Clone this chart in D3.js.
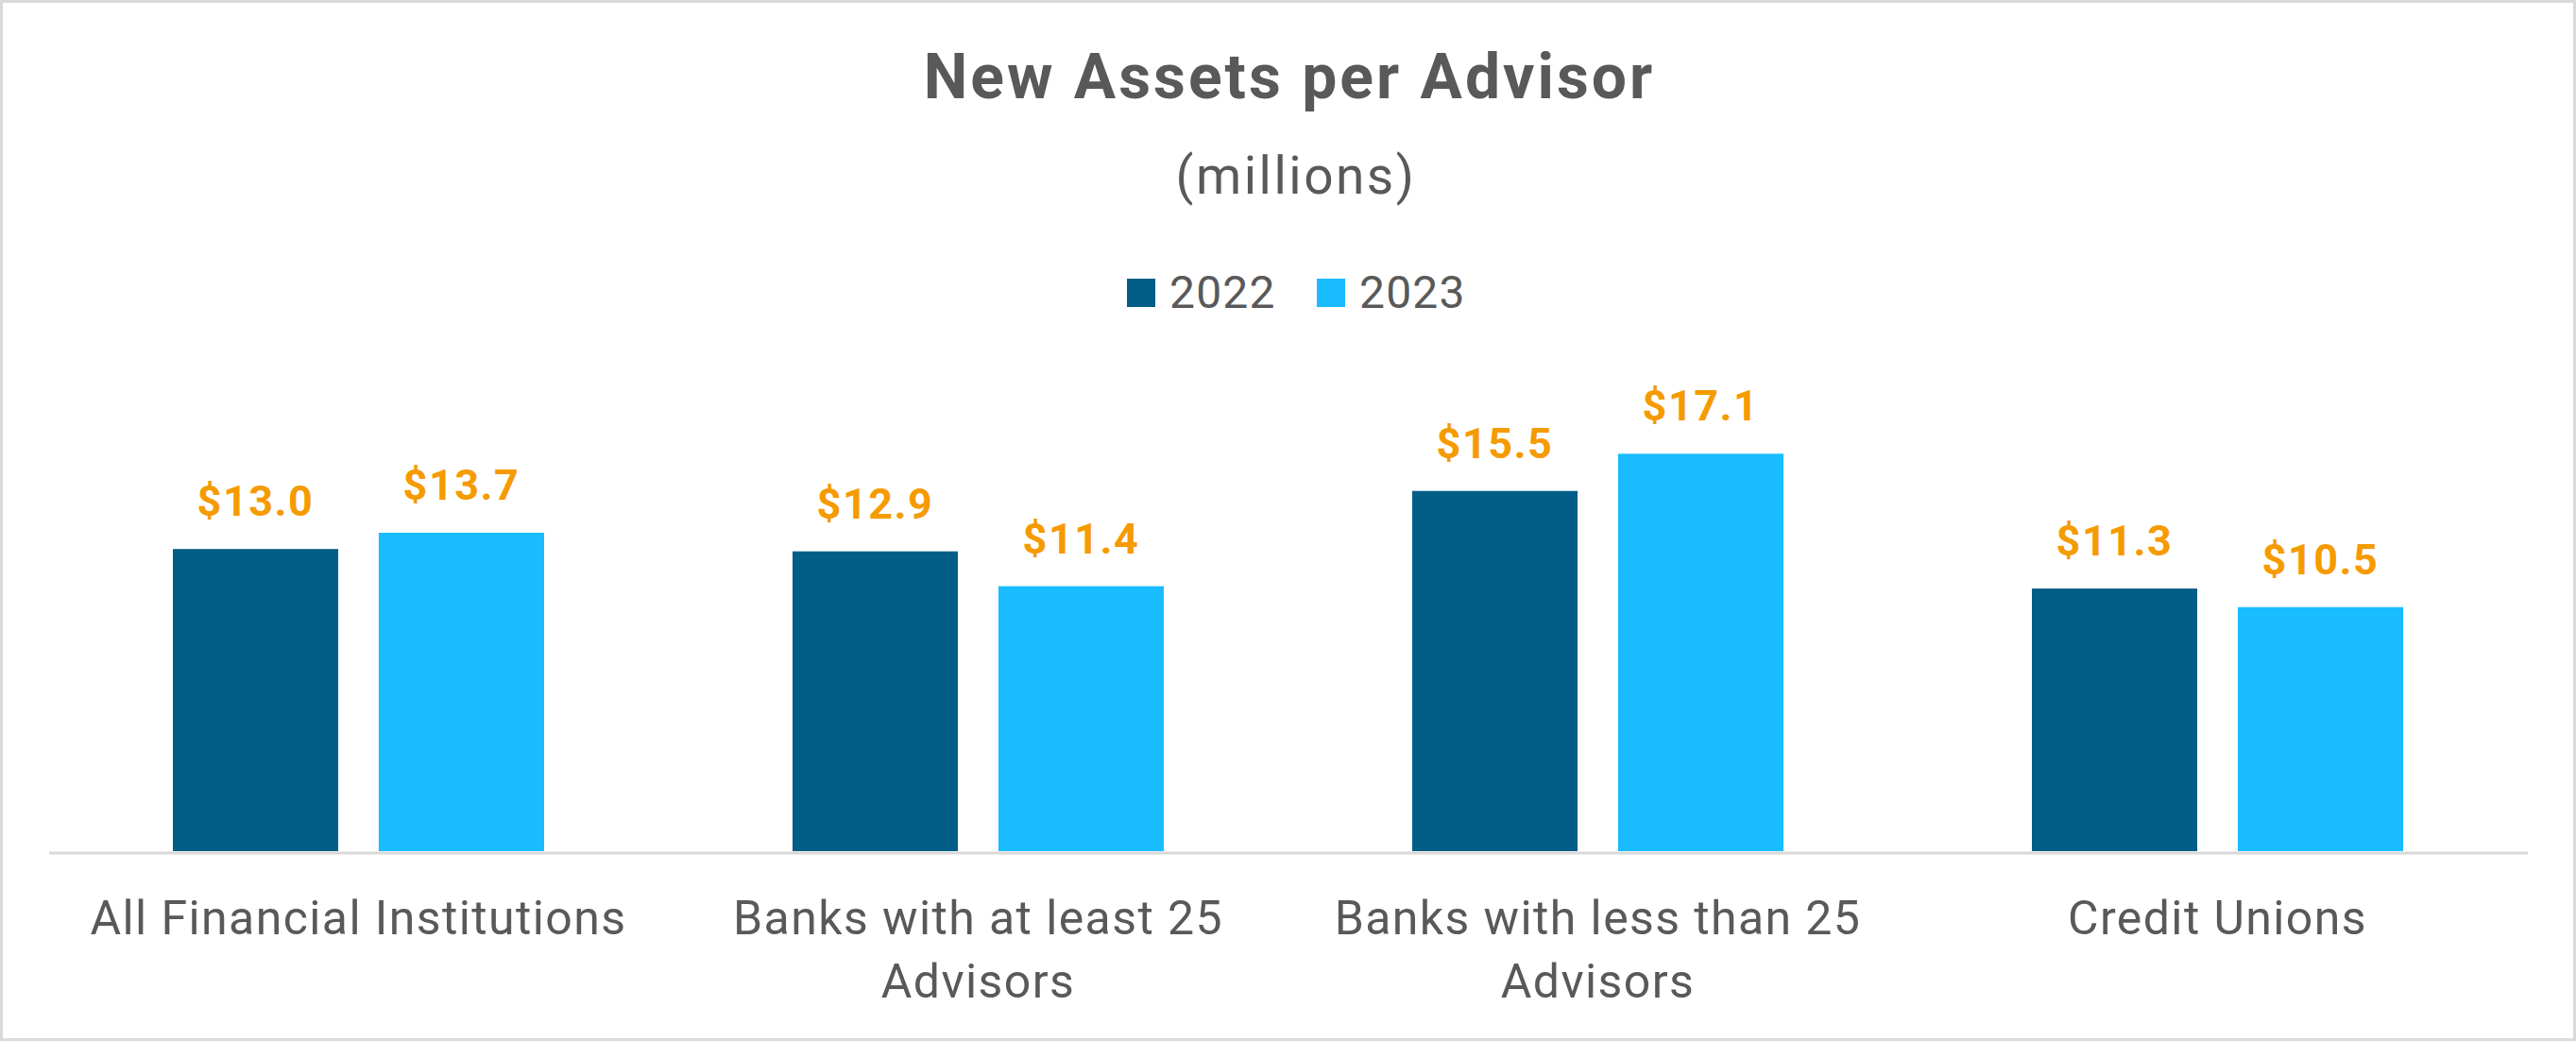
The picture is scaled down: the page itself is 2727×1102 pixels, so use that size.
<!DOCTYPE html>
<html>
<head>
<meta charset="utf-8">
<script src="https://cdn.jsdelivr.net/npm/d3@7"></script>
<style>
  html, body { margin: 0; padding: 0; background: #fff; }
  svg { display: block; }
  text { font-family: Roboto, "Liberation Sans", sans-serif; }
</style>
</head>
<body>
<svg id="chart" width="2727" height="1102"></svg>
<script>
const categories = [
  ["All Financial Institutions"],
  ["Banks with at least 25", "Advisors"],
  ["Banks with less than 25", "Advisors"],
  ["Credit Unions"]
];
const seriesNames = ["2022", "2023"];
const values2022 = [13.0, 12.9, 15.5, 11.3];
const values2023 = [13.7, 11.4, 17.1, 10.5];
const seriesColors = ["#025E87", "#18BCFF"];
const labelColor = "#F59B00";
const textColor = "#595959";

const W = 2727, H = 1102;
const svg = d3.select("#chart");

// background & border
svg.append("rect").attr("x", 1.5).attr("y", 1.5).attr("width", W - 3).attr("height", H - 3)
  .attr("fill", "#fff").attr("stroke", "#D9D9D9").attr("stroke-width", 3);

const catIdx = d3.range(categories.length);
const x0 = d3.scaleBand().domain(catIdx).range([51.5, 2675.5]).paddingInner(0).paddingOuter(0);
const x1 = d3.scaleBand().domain(seriesNames).range([131.5, 524.5]).paddingInner(0.197).paddingOuter(0);
const y = d3.scaleLinear().domain([0, 20]).range([901, 409]);

const data = catIdx.map(i => ({
  i,
  vals: [{ s: "2022", v: values2022[i], c: seriesColors[0] }, { s: "2023", v: values2023[i], c: seriesColors[1] }]
}));

const g = svg.append("g");
const groups = g.selectAll("g.grp").data(data).join("g")
  .attr("class", "grp")
  .attr("transform", d => `translate(${x0(d.i)},0)`);

groups.selectAll("rect").data(d => d.vals).join("rect")
  .attr("x", d => x1(d.s))
  .attr("width", x1.bandwidth())
  .attr("y", d => y(d.v))
  .attr("height", d => y(0) - y(d.v))
  .attr("fill", d => d.c);

groups.selectAll("text.val").data(d => d.vals).join("text")
  .attr("class", "val")
  .attr("x", d => x1(d.s) + x1.bandwidth() / 2)
  .attr("y", d => y(d.v) - 35)
  .attr("text-anchor", "middle")
  .attr("font-size", 45)
  .attr("font-weight", "bold")
  .attr("letter-spacing", 1.5)
  .attr("fill", labelColor)
  .text(d => "$" + d.v.toFixed(1));

// x axis line
const xAxis = d3.axisBottom(x0).tickSize(0).tickFormat("");
const ax = svg.append("g").attr("transform", `translate(0,${y(0) + 1.5})`).call(xAxis);
ax.select(".domain").attr("stroke", "#D9D9D9").attr("stroke-width", 3);

// category labels
const cl = svg.append("g");
data.forEach(d => {
  const t = cl.append("text")
    .attr("text-anchor", "middle")
    .attr("font-size", 50)
    .attr("letter-spacing", 1.4)
    .attr("fill", textColor);
  categories[d.i].forEach((line, k) => {
    t.append("tspan")
      .attr("x", x0(d.i) + x0.bandwidth() / 2)
      .attr("y", 989 + k * 66.5)
      .text(line);
  });
});

// title
svg.append("text")
  .attr("x", 1365).attr("y", 104)
  .attr("text-anchor", "middle")
  .attr("font-size", 66).attr("font-weight", "bold")
  .attr("letter-spacing", 3)
  .attr("fill", textColor)
  .text("New Assets per Advisor");

svg.append("text")
  .attr("x", 1372).attr("y", 205)
  .attr("text-anchor", "middle")
  .attr("font-size", 55)
  .attr("letter-spacing", 2.5)
  .attr("fill", textColor)
  .text("(millions)");

// legend
const legendX = [1193, 1394];
const lg = svg.append("g");
seriesNames.forEach((s, k) => {
  lg.append("rect").attr("x", legendX[k]).attr("y", 295).attr("width", 30).attr("height", 30)
    .attr("fill", seriesColors[k]);
  lg.append("text").attr("x", legendX[k] + 45).attr("y", 326)
    .attr("font-size", 48).attr("letter-spacing", 1.2)
    .attr("fill", textColor).text(s);
});
</script>
</body>
</html>
